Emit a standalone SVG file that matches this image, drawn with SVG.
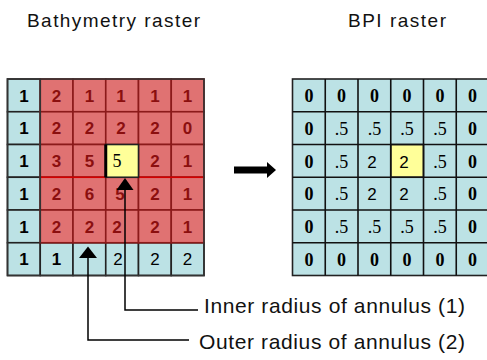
<svg xmlns="http://www.w3.org/2000/svg" width="487" height="360" viewBox="0 0 487 360">
<style>
.title{font-family:"Liberation Sans",Arial,sans-serif;font-size:19px;fill:#111}
.lab{font-family:"Liberation Sans",Arial,sans-serif;font-size:21px;fill:#111}
.cb{fill:#BCE2E5;stroke:#222;stroke-width:1.6}
.cr{fill:#E07272;stroke:#8B1A1A;stroke-width:1.6}
.cy{fill:#FFFF99;stroke:#222;stroke-width:1.6}
.n{font-family:"Liberation Sans",Arial,sans-serif;font-size:17px;text-anchor:middle}
.nb{font-weight:bold;fill:#000}
.nr{font-weight:bold;fill:#8B0F0F}
.nk{fill:#000}
.s{font-family:"Liberation Serif","Times New Roman",serif;font-size:18px;text-anchor:middle;fill:#000}
.sb{font-weight:bold}
.ln{fill:none;stroke:#000;stroke-width:1.5}
</style>
<g id="title-bathymetry"><text class="title" x="27" y="27" textLength="173" lengthAdjust="spacing">Bathymetry raster</text></g>
<g id="title-bpi"><text class="title" x="348" y="27" textLength="98" lengthAdjust="spacing">BPI raster</text></g>

<g id="bathymetry-raster">
<rect class="cb" x="7.5" y="79" width="32.75" height="32.75"/>
<rect class="cb" x="7.5" y="111.75" width="32.75" height="32.75"/>
<rect class="cb" x="7.5" y="144.5" width="32.75" height="32.75"/>
<rect class="cb" x="7.5" y="177.25" width="32.75" height="32.75"/>
<rect class="cb" x="7.5" y="210" width="32.75" height="32.75"/>
<rect class="cb" x="7.5" y="242.75" width="32.75" height="32.75"/>
<rect class="cb" x="40.25" y="242.75" width="32.75" height="32.75"/>
<rect class="cb" x="73" y="242.75" width="32.75" height="32.75"/>
<rect class="cb" x="105.75" y="242.75" width="32.75" height="32.75"/>
<rect class="cb" x="138.5" y="242.75" width="32.75" height="32.75"/>
<rect class="cb" x="171.25" y="242.75" width="32.75" height="32.75"/>
<g class="cr">
<rect x="40.25" y="79" width="32.75" height="32.75"/><rect x="73" y="79" width="32.75" height="32.75"/><rect x="105.75" y="79" width="32.75" height="32.75"/><rect x="138.5" y="79" width="32.75" height="32.75"/><rect x="171.25" y="79" width="32.75" height="32.75"/>
<rect x="40.25" y="111.75" width="32.75" height="32.75"/><rect x="73" y="111.75" width="32.75" height="32.75"/><rect x="105.75" y="111.75" width="32.75" height="32.75"/><rect x="138.5" y="111.75" width="32.75" height="32.75"/><rect x="171.25" y="111.75" width="32.75" height="32.75"/>
<rect x="40.25" y="144.5" width="32.75" height="32.75"/><rect x="73" y="144.5" width="32.75" height="32.75"/><rect x="138.5" y="144.5" width="32.75" height="32.75"/><rect x="171.25" y="144.5" width="32.75" height="32.75"/>
<rect x="40.25" y="177.25" width="32.75" height="32.75"/><rect x="73" y="177.25" width="32.75" height="32.75"/><rect x="105.75" y="177.25" width="32.75" height="32.75"/><rect x="138.5" y="177.25" width="32.75" height="32.75"/><rect x="171.25" y="177.25" width="32.75" height="32.75"/>
<rect x="40.25" y="210" width="32.75" height="32.75"/><rect x="73" y="210" width="32.75" height="32.75"/><rect x="105.75" y="210" width="32.75" height="32.75"/><rect x="138.5" y="210" width="32.75" height="32.75"/><rect x="171.25" y="210" width="32.75" height="32.75"/>
</g>
<line x1="40.25" y1="177.25" x2="204" y2="177.25" stroke="#D40000" stroke-width="1.6"/>
<line x1="40.25" y1="79" x2="40.25" y2="242.75" stroke="#333" stroke-width="1.6"/>
<rect class="cy" x="105.75" y="144.5" width="32.75" height="32.75"/>
<line x1="105.75" y1="144.5" x2="105.75" y2="177.25" stroke="#000" stroke-width="3"/>
<rect x="7.5" y="79" width="196.5" height="196.5" fill="none" stroke="#333" stroke-width="1.6"/>
<g class="n nb"><text x="23.9" y="101.5">1</text><text x="23.9" y="134">1</text><text x="23.9" y="167">1</text><text x="23.9" y="199.5">1</text><text x="23.9" y="232.5">1</text><text x="23.9" y="265">1</text><text x="56.6" y="265">1</text></g>
<g class="n nr">
<text x="56.6" y="101.5">2</text><text x="89.4" y="101.5">1</text><text x="121" y="101.5">1</text><text x="154.9" y="101.5">1</text><text x="187.6" y="101.5">1</text>
<text x="56.6" y="134">2</text><text x="89.4" y="134">2</text><text x="121" y="134">2</text><text x="154.9" y="134">2</text><text x="187.6" y="134">0</text>
<text x="56.6" y="167">3</text><text x="89.4" y="167">5</text><text x="154.9" y="167">2</text><text x="187.6" y="167">1</text>
<text x="56.6" y="199.5">2</text><text x="89.4" y="199.5">6</text><text x="120" y="199.5">5</text><text x="154.9" y="199.5">2</text><text x="187.6" y="199.5">1</text>
<text x="56.6" y="232.5">2</text><text x="89.4" y="232.5">2</text><text x="117" y="232.5">2</text><text x="154.9" y="232.5">2</text><text x="187.6" y="232.5">1</text>
</g>
<text class="s" x="117" y="167">5</text>
<g class="n nk"><text x="118" y="265">2</text><text x="154.9" y="265">2</text><text x="187.6" y="265">2</text></g>
</g>

<g id="bpi-raster">
<rect class="cb" x="292.5" y="79" width="196.5" height="196.5"/>
<rect class="cy" x="390.75" y="144.5" width="32.75" height="32.75"/>
<g stroke="#111" stroke-width="1.6">
<line x1="325.25" y1="79" x2="325.25" y2="275.5"/><line x1="358" y1="79" x2="358" y2="275.5"/><line x1="390.75" y1="79" x2="390.75" y2="275.5"/><line x1="423.5" y1="79" x2="423.5" y2="275.5"/><line x1="456.25" y1="79" x2="456.25" y2="275.5"/>
<line x1="292.5" y1="111.75" x2="489" y2="111.75"/><line x1="292.5" y1="144.5" x2="489" y2="144.5"/><line x1="292.5" y1="177.25" x2="489" y2="177.25"/><line x1="292.5" y1="210" x2="489" y2="210"/><line x1="292.5" y1="242.75" x2="489" y2="242.75"/>
</g>
<g class="s sb">
<text x="308.9" y="102">0</text><text x="341.6" y="102">0</text><text x="374.4" y="102">0</text><text x="407.1" y="102">0</text><text x="439.9" y="102">0</text><text x="472.6" y="102">0</text>
<text x="308.9" y="134.5">0</text><text x="472.6" y="134.5">0</text>
<text x="308.9" y="167.5">0</text><text x="472.6" y="167.5">0</text>
<text x="308.9" y="200">0</text><text x="472.6" y="200">0</text>
<text x="308.9" y="233">0</text><text x="472.6" y="233">0</text>
<text x="308.9" y="265.5">0</text><text x="341.6" y="265.5">0</text><text x="374.4" y="265.5">0</text><text x="407.1" y="265.5">0</text><text x="439.9" y="265.5">0</text><text x="472.6" y="265.5">0</text>
</g>
<g class="s">
<text x="341.6" y="134.5">.5</text><text x="374.4" y="134.5">.5</text><text x="407.1" y="134.5">.5</text><text x="439.9" y="134.5">.5</text>
<text x="341.6" y="167.5">.5</text><text x="439.9" y="167.5">.5</text>
<text x="341.6" y="200">.5</text><text x="439.9" y="200">.5</text>
<text x="341.6" y="233">.5</text><text x="374.4" y="233">.5</text><text x="407.1" y="233">.5</text><text x="439.9" y="233">.5</text>
</g>
<g class="n nk"><text x="372" y="167.5">2</text><text x="404" y="167.5">2</text><text x="372" y="200">2</text><text x="404" y="200">2</text></g>
</g>

<g id="connectors">
<path d="M234 166.5 H267 V162 L276 170 L267 178 V173.5 H234 Z" fill="#000"/>
<polygon points="125,178 116.5,190 133.5,190" fill="#000"/>
<path class="ln" d="M125 189 V310 H198"/>
<polygon points="88,246.5 79,258 97,258" fill="#000"/>
<path class="ln" d="M88 257 V340 H189"/>
</g>

<g id="label-inner"><text class="lab" x="204" y="313" textLength="261" lengthAdjust="spacing">Inner radius of annulus (1)</text></g>
<g id="label-outer"><text class="lab" x="199" y="349" textLength="266" lengthAdjust="spacing">Outer radius of annulus (2)</text></g>
</svg>
